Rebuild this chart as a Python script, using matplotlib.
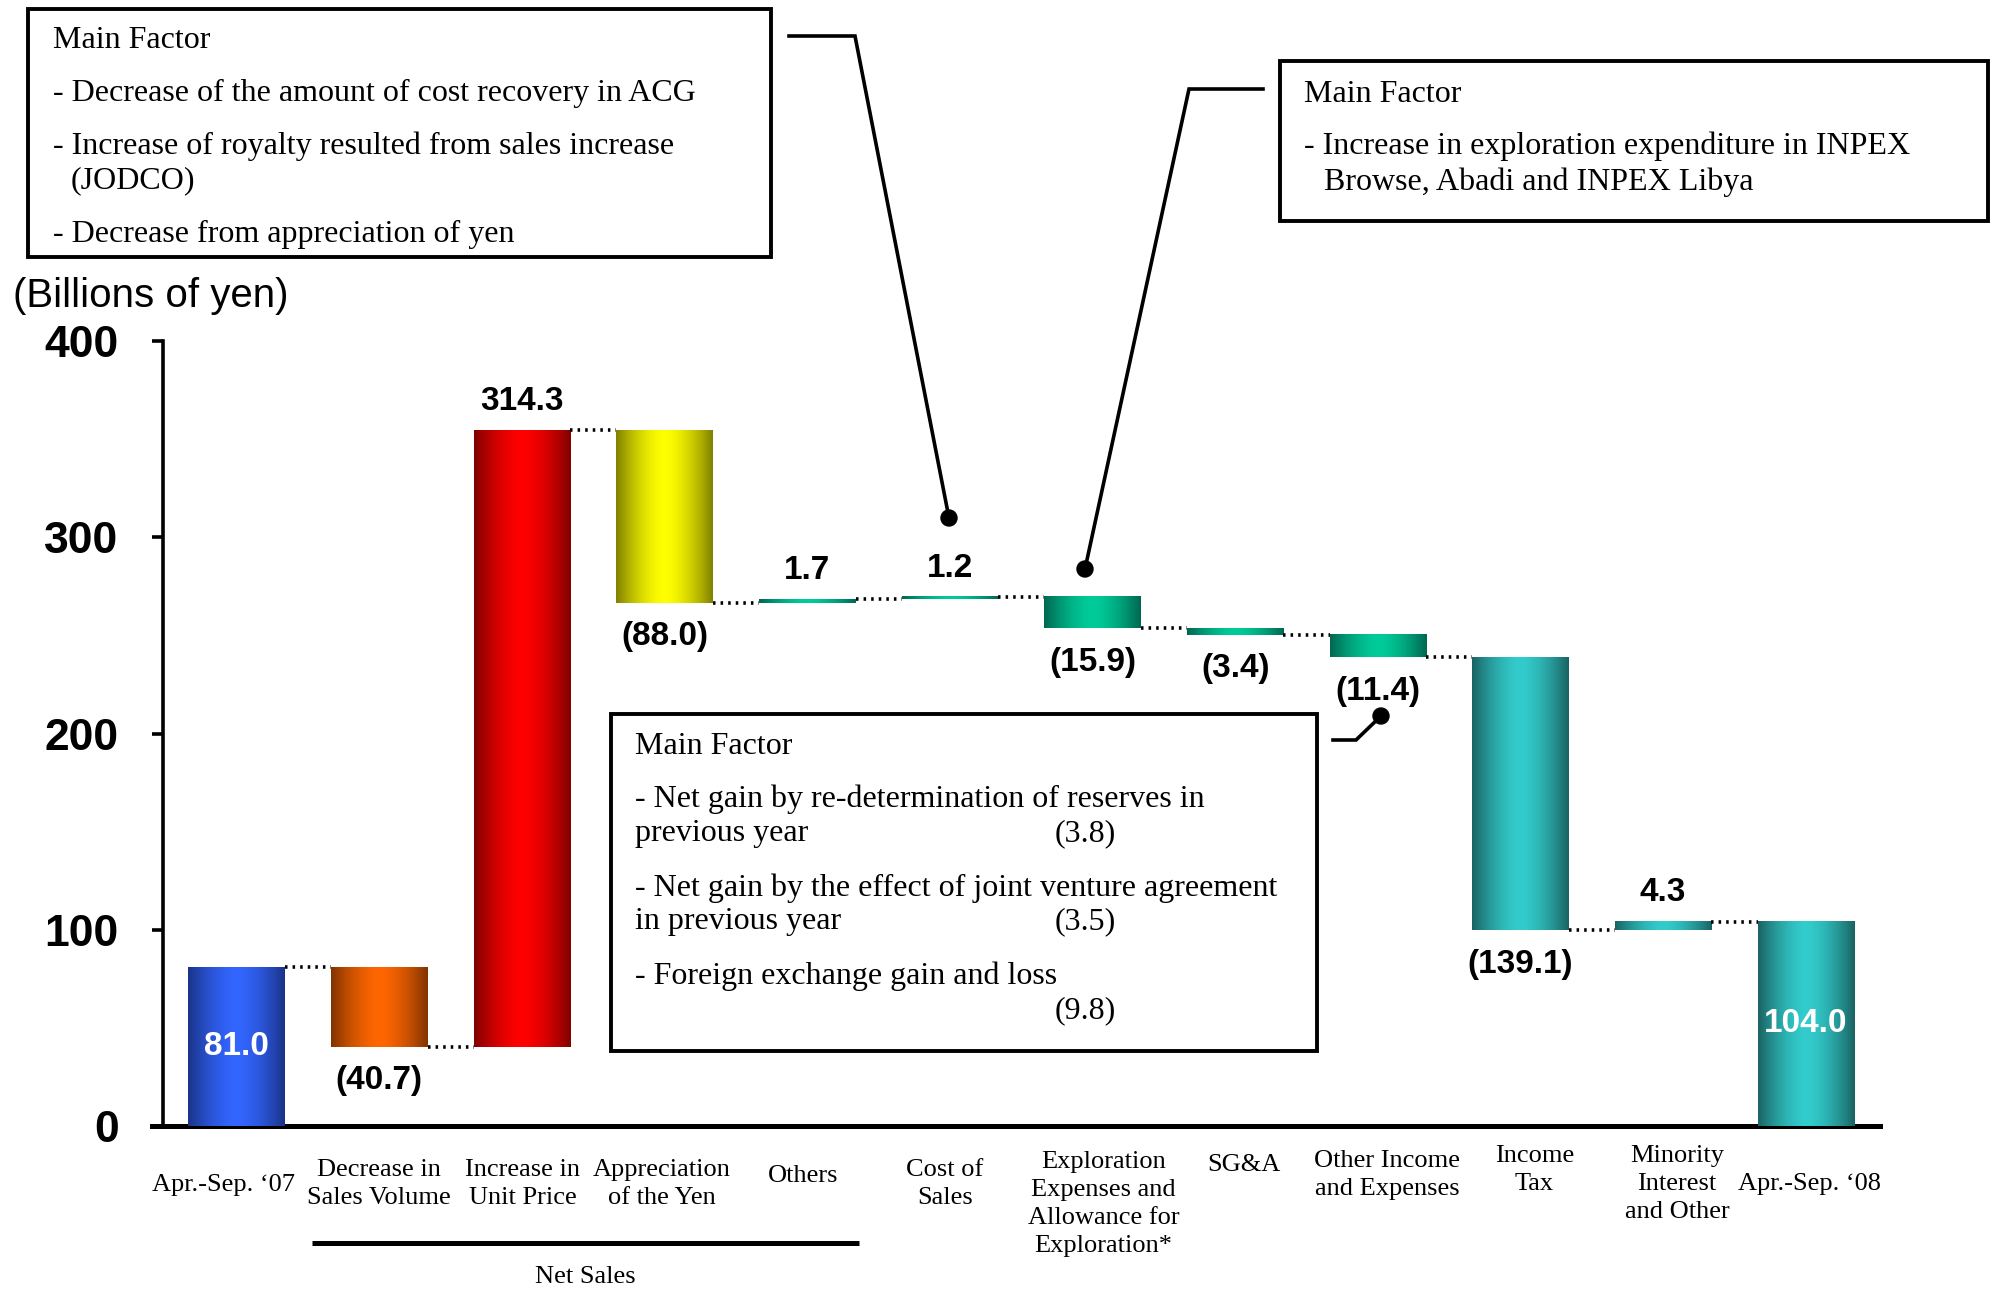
import numpy as np
import matplotlib.pyplot as plt
from matplotlib.patches import Rectangle, Circle
from matplotlib.colors import to_rgb

# data
categories = ["Apr.-Sep. \u201807", "Decrease in\nSales Volume", "Increase in\nUnit Price",
              "Appreciation\nof the Yen", "Others", "Cost of\nSales",
              "Exploration\nExpenses and\nAllowance for\nExploration*", "SG&A",
              "Other Income\nand Expenses", "Income\nTax", "Minority\nInterest\nand Other",
              "Apr.-Sep. \u201808"]
values = [81.0, -40.7, 314.3, -88.0, 1.7, 1.2, -15.9, -3.4, -11.4, -139.1, 4.3, 104.0]
is_total = [True, False, False, False, False, False, False, False, False, False, False, True]
value_labels = ["81.0", "(40.7)", "314.3", "(88.0)", "1.7", "1.2", "(15.9)", "(3.4)",
                "(11.4)", "(139.1)", "4.3", "104.0"]
yticks = [0, 100, 200, 300, 400]

bright = ["#3366ff", "#ff6600", "#ff0000", "#ffff00"] + ["#00cc99"] * 5 + ["#33cccc"] * 3
dark = ["#1a3388", "#803300", "#800000", "#808000"] + ["#006650"] * 5 + ["#1a6262"] * 3

# label layout (pixels): x shift, distance of first line centre below the axis
lab_dx = [-13, 0, 1, -3, -4, -5, 11, 9, 9, 14, 14, 4]
lab_dy = [57, 42, 42, 42, 48, 42, 34, 37, 33, 28, 28, 56]

W, H = 1995, 1289
fig = plt.figure(figsize=(W / 100, H / 100), dpi=100)
ax = fig.add_axes([163 / W, 1 - 1126 / H, (1880 - 163) / W, (1126 - 341) / H])

# waterfall bottoms
bottoms, level = [], 0.0
for v, tot in zip(values, is_total):
    if tot:
        bottoms.append(0.0)
        level = v
    else:
        bottoms.append(level)
        level += v

x = np.arange(len(values))
bars = ax.bar(x, values, bottom=bottoms, width=0.677, color=bright, linewidth=0, zorder=2)

# horizontal gradient on each bar
t = np.linspace(0, 1, 200)
f = 1 - np.abs(2 * t - 1) ** 1.6
for b, c1, c0 in zip(bars, bright, dark):
    c1, c0 = np.array(to_rgb(c1)), np.array(to_rgb(c0))
    img = (c0[None, :] + (c1 - c0)[None, :] * f[:, None])[None, :, :]
    bb = b.get_bbox()
    ax.imshow(img, extent=(bb.x0, bb.x1, bb.y0, bb.y1), aspect="auto",
              interpolation="bilinear", zorder=3)

# dotted connectors
for i in range(len(values) - 1):
    lvl = bottoms[i] + values[i]
    ax.plot([x[i] + 0.677 / 2, x[i + 1] - 0.677 / 2], [lvl, lvl], color="black",
            lw=2.6, ls=(0, (0.7, 1.4)), zorder=4)

# value labels
for i, (v, lab) in enumerate(zip(values, value_labels)):
    if is_total[i]:
        ax.text(x[i], v / 2, lab, ha="center", va="center", color="white",
                fontsize=24, fontweight="bold", family="Liberation Sans", zorder=5)
    elif v > 0:
        ax.annotate(lab, (x[i], bottoms[i] + v), xytext=(0, 29), textcoords="offset pixels",
                    ha="center", va="center", fontsize=24, fontweight="bold",
                    family="Liberation Sans")
    else:
        ax.annotate(lab, (x[i], bottoms[i] + v), xytext=(0, -34), textcoords="offset pixels",
                    ha="center", va="center", fontsize=24, fontweight="bold",
                    family="Liberation Sans")

# category labels
for i, cat in enumerate(categories):
    ax.annotate(cat, (x[i], 0), xytext=(lab_dx[i], -(lab_dy[i] - 9)),
                textcoords="offset pixels", ha="center", va="top", fontsize=19,
                family="Liberation Serif", linespacing=1.36, annotation_clip=False)

ax.set_xlim(-0.516, 11.52)
ax.set_ylim(0, 400)
ax.set_yticks(yticks)
ax.set_xticks([])
for s in ["top", "right"]:
    ax.spines[s].set_visible(False)
ax.spines["left"].set_linewidth(2.6)
ax.spines["bottom"].set_linewidth(3.6)
ax.spines["bottom"].set_bounds(-0.59, 11.52)
ax.tick_params(axis="y", length=8, width=2.6, pad=24, labelsize=32)
for lab in ax.get_yticklabels():
    lab.set_fontweight("bold")
    lab.set_family("Liberation Sans")

fig.text(13 / W, 1 - 296 / H, "(Billions of yen)", fontsize=29, family="Liberation Sans",
         va="center", ha="left")

# overlay in pixel coordinates for notes
ov = fig.add_axes([0, 0, 1, 1], facecolor="none")
ov.set_xlim(0, W)
ov.set_ylim(H, 0)
ov.axis("off")

serif = dict(family="Liberation Serif", fontsize=23, va="center", ha="left")

ov.add_patch(Rectangle((28, 9), 771 - 28, 257 - 9, fill=False, lw=2.8, ec="black"))
for (tx, ty, s) in [(53, 41, "Main Factor"),
                    (53, 93, "- Decrease of the amount of cost recovery in ACG"),
                    (53, 146, "- Increase of royalty resulted from sales increase"),
                    (71, 181, "(JODCO)"),
                    (53, 234, "- Decrease from appreciation of yen")]:
    ov.text(tx, ty, s, **serif)

ov.add_patch(Rectangle((1280, 61), 1988 - 1280, 221 - 61, fill=False, lw=2.8, ec="black"))
for (tx, ty, s) in [(1304, 94, "Main Factor"),
                    (1304, 146, "- Increase in exploration expenditure in INPEX"),
                    (1324, 182, "Browse, Abadi and INPEX Libya")]:
    ov.text(tx, ty, s, **serif)

ov.add_patch(Rectangle((611, 714), 1317 - 611, 1051 - 714, fill=False, lw=2.8, ec="black"))
for (tx, ty, s) in [(635, 747, "Main Factor"),
                    (635, 799, "- Net gain by re-determination of reserves in"),
                    (635, 834, "previous year"),
                    (635, 888, "- Net gain by the effect of joint venture agreement"),
                    (635, 922, "in previous year"),
                    (635, 976, "- Foreign exchange gain and loss")]:
    ov.text(tx, ty, s, **serif)
for ty, s in [(834, "(3.8)"), (922, "(3.5)"), (1011, "(9.8)")]:
    ov.text(1085, ty, s, family="Liberation Serif", fontsize=23, va="center", ha="center")

# leader lines
for pts in [[(789, 36), (855, 36), (949, 518)],
            [(1263, 89), (1189, 89), (1085, 569)],
            [(1333, 740), (1356, 740), (1381, 716)]]:
    px, py = zip(*pts)
    ov.plot(px, py, color="black", lw=2.6, solid_joinstyle="miter")
    ov.add_patch(Circle(pts[-1], 8, color="black"))

# Net Sales bracket
ov.plot([312, 859], [1243, 1243], color="black", lw=3.6, solid_capstyle="butt")
ov.text(585, 1277, "Net Sales", family="Liberation Serif", fontsize=19, ha="center", va="center")

fig.savefig("out.png", dpi=100)
